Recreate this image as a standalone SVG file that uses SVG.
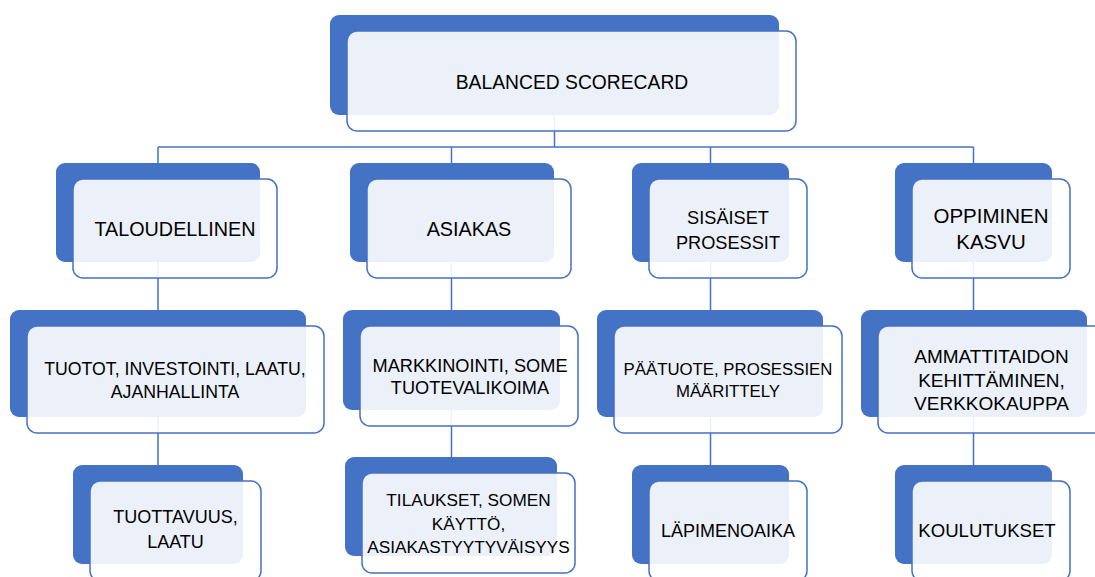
<svg xmlns="http://www.w3.org/2000/svg" width="1095" height="577" viewBox="0 0 1095 577">
  <style>
    .back { fill: #4472C4; }
    .front { fill: #FFFFFF; fill-opacity: 0.9; stroke: #4472C4; stroke-width: 1.5; }
    .lbl { font-family: "Liberation Sans", Arial, sans-serif; fill: #000000; text-anchor: middle; }
    .conn { fill: none; stroke: #4472C4; stroke-width: 1.5; }
  </style>
  <rect width="1095" height="577" fill="#FFFFFF"/>

  <!-- tree connectors, drawn under the nodes -->
  <g id="connectors" class="conn">
    <path d="M554.5 115 V147"/>
    <path d="M158 147 H973.5"/>
    <path d="M158 147 V163"/>
    <path d="M451.5 147 V163"/>
    <path d="M710.5 147 V163"/>
    <path d="M973.5 147 V163"/>
    <path d="M158 262 V310"/>
    <path d="M158 417 V465"/>
    <path d="M451.5 262 V310"/>
    <path d="M451.5 410 V457"/>
    <path d="M710.5 262 V310"/>
    <path d="M710.5 417 V465"/>
    <path d="M973.5 262 V310"/>
    <path d="M973.5 417 V465"/>
  </g>

  <!-- root -->
  <g id="root">
    <rect class="back" x="330" y="15" width="449" height="100" rx="9"/>
    <rect class="front" x="347" y="31" width="449" height="100" rx="10"/>
    <text class="lbl" x="572" y="89" font-size="19.3">BALANCED SCORECARD</text>
  </g>

  <!-- level 1 -->
  <g id="taloudellinen">
    <rect class="back" x="56" y="163" width="204" height="99" rx="9"/>
    <rect class="front" x="73" y="179" width="204" height="99" rx="10"/>
    <text class="lbl" x="175" y="236" font-size="19.8">TALOUDELLINEN</text>
  </g>
  <g id="asiakas">
    <rect class="back" x="350" y="163" width="204" height="99" rx="9"/>
    <rect class="front" x="367" y="179" width="204" height="99" rx="10"/>
    <text class="lbl" x="469" y="236" font-size="19.8">ASIAKAS</text>
  </g>
  <g id="sisaiset-prosessit">
    <rect class="back" x="632" y="163" width="157" height="99" rx="9"/>
    <rect class="front" x="649" y="179" width="158" height="99" rx="10"/>
    <text class="lbl" x="728" y="224" font-size="18.2">SISÄISET</text>
    <text class="lbl" x="728" y="249" font-size="18.2">PROSESSIT</text>
  </g>
  <g id="oppiminen-kasvu">
    <rect class="back" x="895" y="163" width="157" height="99" rx="9"/>
    <rect class="front" x="912" y="179" width="158" height="99" rx="10"/>
    <text class="lbl" x="991" y="223" font-size="20.5">OPPIMINEN</text>
    <text class="lbl" x="991" y="249" font-size="20.5">KASVU</text>
  </g>

  <!-- level 2 -->
  <g id="tuotot">
    <rect class="back" x="10" y="310" width="296" height="107" rx="9"/>
    <rect class="front" x="27" y="326" width="297" height="107" rx="10"/>
    <text class="lbl" x="175" y="375" font-size="17.7">TUOTOT, INVESTOINTI, LAATU,</text>
    <text class="lbl" x="175" y="398" font-size="17.7">AJANHALLINTA</text>
  </g>
  <g id="markkinointi">
    <rect class="back" x="343" y="310" width="217" height="100" rx="9"/>
    <rect class="front" x="360" y="326" width="218" height="100" rx="10"/>
    <text class="lbl" x="470" y="372" font-size="18.2">MARKKINOINTI, SOME</text>
    <text class="lbl" x="470" y="394" font-size="18.2">TUOTEVALIKOIMA</text>
  </g>
  <g id="paatuote">
    <rect class="back" x="597" y="310" width="226" height="107" rx="9"/>
    <rect class="front" x="614" y="326" width="228" height="107" rx="10"/>
    <text class="lbl" x="728" y="375" font-size="16.8">PÄÄTUOTE, PROSESSIEN</text>
    <text class="lbl" x="728" y="397" font-size="16.8">MÄÄRITTELY</text>
  </g>
  <g id="ammattitaidon">
    <rect class="back" x="861" y="310" width="226" height="107" rx="9"/>
    <rect class="front" x="878" y="326" width="228" height="107" rx="10"/>
    <text class="lbl" x="991.5" y="363" font-size="19">AMMATTITAIDON</text>
    <text class="lbl" x="991.5" y="387" font-size="19">KEHITTÄMINEN,</text>
    <text class="lbl" x="991.5" y="410" font-size="19">VERKKOKAUPPA</text>
  </g>

  <!-- level 3 -->
  <g id="tuottavuus">
    <rect class="back" x="73" y="465" width="170" height="99" rx="9"/>
    <rect class="front" x="90" y="481" width="171" height="100" rx="10"/>
    <text class="lbl" x="175.5" y="523" font-size="18">TUOTTAVUUS,</text>
    <text class="lbl" x="175.5" y="548" font-size="18">LAATU</text>
  </g>
  <g id="tilaukset">
    <rect class="back" x="345" y="457" width="212" height="99" rx="9"/>
    <rect class="front" x="362" y="473" width="213" height="100" rx="10"/>
    <text class="lbl" x="468.5" y="506" font-size="17.2">TILAUKSET, SOMEN</text>
    <text class="lbl" x="468.5" y="530" font-size="17.2">KÄYTTÖ,</text>
    <text class="lbl" x="468.5" y="553" font-size="17.2">ASIAKASTYYTYVÄISYYS</text>
  </g>
  <g id="lapimenoaika">
    <rect class="back" x="632" y="465" width="157" height="99" rx="9"/>
    <rect class="front" x="649" y="481" width="158" height="100" rx="10"/>
    <text class="lbl" x="728" y="537" font-size="18">LÄPIMENOAIKA</text>
  </g>
  <g id="koulutukset">
    <rect class="back" x="895" y="465" width="157" height="99" rx="9"/>
    <rect class="front" x="912" y="481" width="158" height="100" rx="10"/>
    <text class="lbl" x="987" y="537" font-size="18.6">KOULUTUKSET</text>
  </g>
</svg>
